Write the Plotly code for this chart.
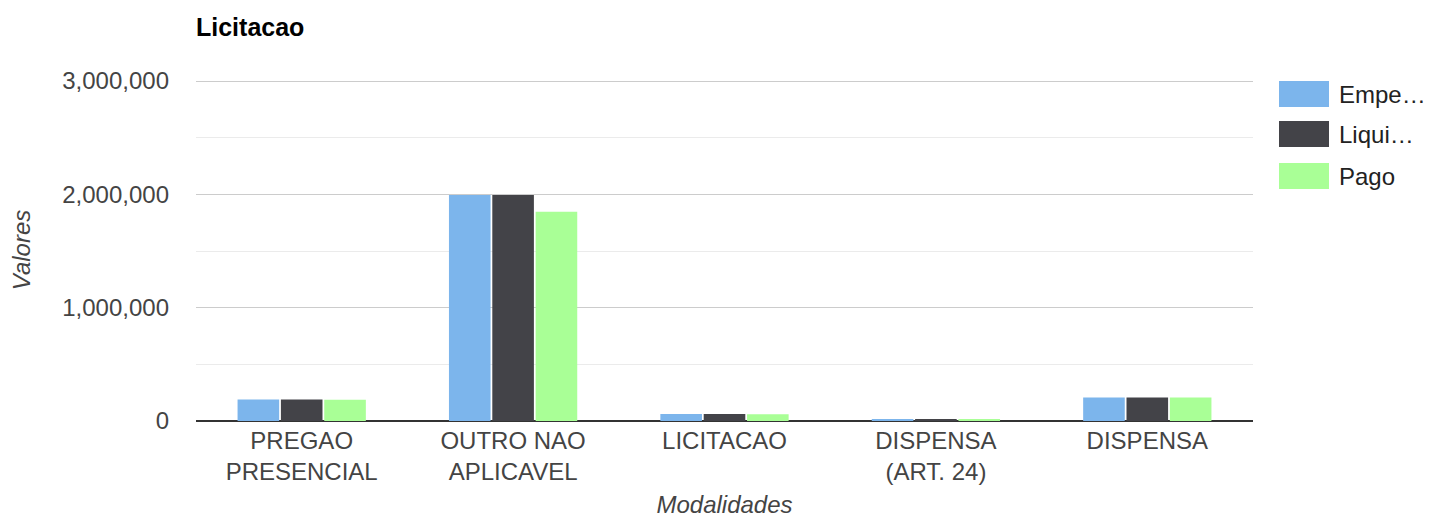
import plotly.graph_objects as go

categories = ["PREGAO<br>PRESENCIAL", "OUTRO NAO<br>APLICAVEL", "LICITACAO", "DISPENSA<br>(ART. 24)", "DISPENSA"]
series_names = ["Empenhado", "Liquidado", "Pago"]
legend_labels = ["Empe…", "Liqui…", "Pago"]
empenhado = [190000, 1995000, 62000, 12000, 208000]
liquidado = [190000, 1995000, 62000, 12000, 208000]
pago = [188000, 1847000, 60000, 12000, 208000]
y_tick_vals = [0, 1000000, 2000000, 3000000]
colors = ["#7cb5ec", "#434348", "#a9ff96"]

values = [empenhado, liquidado, pago]
FONT = "Liberation Sans, Arial, sans-serif"

W, H = 1431, 518
L, R, T, B = 196, 178, 79, 97
PW = W - L - R
PH = H - T - B
BASE = H - B            # pixel row of the zero line
# keep 340px per 3,000,000 and let the top gridline sit inside the plot
y_max = 3000000 * PH / 340

fig = go.Figure()
for name, vals, col in zip(series_names, values, colors):
    fig.add_trace(go.Bar(
        x=categories, y=vals, name=name,
        marker=dict(color=col, line=dict(width=0)),
        showlegend=False,
    ))

# custom legend (large swatches like the reference)
box_tops = [81, 121, 163]
for lab, col, top in zip(legend_labels, colors, box_tops):
    y1 = (BASE - top) / PH
    y0 = (BASE - (top + 26)) / PH
    fig.add_shape(type="rect", xref="paper", yref="paper",
                  x0=(1279 - L) / PW, x1=(1329 - L) / PW,
                  y0=y0, y1=y1, fillcolor=col, line=dict(width=0))
    fig.add_annotation(xref="paper", yref="paper",
                       x=(1337 - L) / PW, y=(y0 + y1) / 2,
                       text=lab, showarrow=False, xanchor="left", yanchor="middle",
                       font=dict(family=FONT, size=24, color="#222222"))

fig.update_layout(
    width=W, height=H,
    margin=dict(l=L, r=R, t=T, b=B, autoexpand=False),
    paper_bgcolor="white", plot_bgcolor="white",
    barmode="group", bargap=0.385, bargroupgap=0.04,
    title=dict(text="<b>Licitacao</b>", x=L / W, xanchor="left",
               y=1 - 27 / H, yanchor="middle",
               font=dict(family=FONT, size=25, color="#000000")),
    font=dict(family=FONT, size=24, color="#444444"),
)
fig.update_xaxes(
    automargin=False,
    showgrid=False, showline=False, ticks="", ticklabelstandoff=3,
    tickfont=dict(family=FONT, size=24, color="#444444"),
    title=dict(text="<i>Modalidades</i>", font=dict(family=FONT, size=24, color="#444444"), standoff=16),
)
fig.update_yaxes(
    automargin=False,
    range=[0, y_max], tickvals=y_tick_vals, tickformat=",",
    showgrid=True, gridcolor="#cccccc", gridwidth=1,
    minor=dict(dtick=500000, showgrid=True, gridcolor="#ebebeb", gridwidth=1),
    zeroline=True, zerolinecolor="#333333", zerolinewidth=2,
    ticks="", ticklabelstandoff=26,
    tickfont=dict(family=FONT, size=24, color="#444444"),
    title=dict(text="<i>Valores</i>", font=dict(family=FONT, size=24, color="#444444"), standoff=24),
)

fig.write_html("out.html", config={"displayModeBar": False},
               post_script="document.body.style.margin='0';")
